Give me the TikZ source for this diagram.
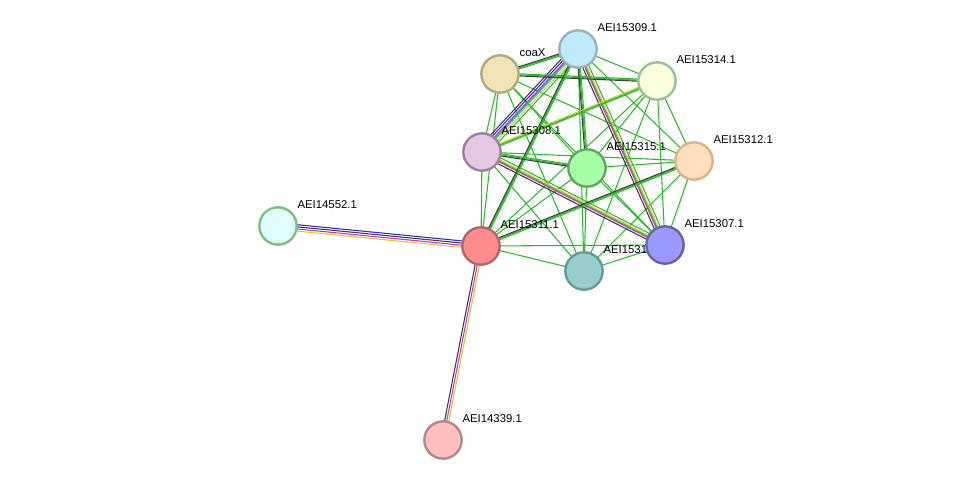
\documentclass[tikz,border=0pt]{standalone}
\usepackage{fontspec}
\setmainfont{Liberation Sans}
\usetikzlibrary{calc}
\definecolor{strgreen}{RGB}{40,190,40}
\definecolor{stryellow}{RGB}{200,210,40}
\definecolor{strmagenta}{RGB}{210,40,210}
\definecolor{strblue}{RGB}{40,40,230}
\definecolor{strcyan}{RGB}{60,180,220}
\definecolor{strblack}{RGB}{60,60,60}
\tikzset{
    prot/.style={circle, line width=1.8pt, minimum size=28pt, inner sep=0pt},
    lbl/.style={anchor=west, font=\fontsize{8.5}{10}\selectfont, inner sep=1pt},
    link/.style={line width=0.8pt, strgreen}
}
% node with its label up and to the right
\newcommand{\protnode}[6]{%
    \node[prot, fill=#4, draw=#5] (#1) at (#2,#3) {};
    \node[lbl] (#1-lbl) at (#2+18,#3-21) {#6};
}
% parallel coloured lines between two nodes
\newcommand{\bundle}[3]{%
    \foreach \col/\off in {#3}
        \draw[line width=0.8pt, \col] ($(#1)!\off pt!90:(#2)$) -- ($(#2)!\off pt!-90:(#1)$);
}
\begin{document}
\begin{tikzpicture}[x=0.75pt, y=-0.75pt]
    \useasboundingbox (0,0) rectangle (976,486);

    % positions
    \coordinate (coaX) at (500,74);
    \coordinate (p09) at (578,49);
    \coordinate (p14) at (657,81);
    \coordinate (p08) at (482,152);
    \coordinate (p15) at (587,168);
    \coordinate (p12) at (694,161);
    \coordinate (p4552) at (278,226);
    \coordinate (p11) at (481,246);
    \coordinate (p07) at (665,245);
    \coordinate (p10) at (584,271);
    \coordinate (p4339) at (443,440);

    % Cluster links (textmining / coexpression)
    \foreach \a/\b in {coaX/p09, coaX/p14, coaX/p08, coaX/p15, coaX/p12, coaX/p11, coaX/p07, coaX/p10,
                       p09/p14, p09/p08, p09/p15, p09/p12, p09/p11, p09/p07, p09/p10,
                       p14/p08, p14/p15, p14/p12, p14/p11, p14/p07, p14/p10,
                       p08/p15, p08/p12, p08/p11, p08/p07, p08/p10,
                       p15/p12, p15/p11, p15/p07, p15/p10,
                       p12/p11, p12/p07, p12/p10,
                       p11/p07, p11/p10, p07/p10}
        \draw[link] (\a) -- (\b);

    % Multi-evidence links
    \bundle{p11}{p4552}{strblue/-2.4, strblack/-0.8, strmagenta/0.8, stryellow/2.4}
    \bundle{p11}{p4339}{strblack/-1.6, strmagenta/0, stryellow/1.6}
    \bundle{p09}{p08}{strblack/-4, strblue/-2.4, strmagenta/-0.8, strcyan/0.8, stryellow/2.4, strgreen/4}
    \bundle{p09}{p07}{strblack/-2.4, strmagenta/-0.8, stryellow/0.8, strgreen/2.4}
    \bundle{p08}{p07}{strblack/-2.4, strmagenta/-0.8, stryellow/0.8, strgreen/2.4}
    \bundle{p09}{coaX}{strblack/-0.8, strgreen/0.8}
    \bundle{coaX}{p14}{strblack/-0.8, strgreen/0.8}
    \bundle{p09}{p15}{strblack/-0.8, strgreen/0.8}
    \bundle{p09}{p11}{strblack/-0.8, strgreen/0.8}
    \bundle{p14}{p08}{stryellow/-0.8, strgreen/0.8}
    \bundle{p12}{p11}{strblack/-0.8, strgreen/0.8}
    \bundle{p08}{p15}{strblack/-0.8, strgreen/0.8}

    % Proteins
    \protnode{n4552}{278}{226}{green!10!cyan!12!white}{green!50!black!50}{AEI14552.1}
    \protnode{n4339}{443}{440}{red!25}{red!30!black!45}{AEI14339.1}
    \protnode{nco}{500}{74}{yellow!40!brown!35!white}{yellow!40!black!60}{coaX}
    \protnode{n09}{578}{49}{cyan!25}{cyan!30!black!45}{AEI15309.1}
    \protnode{n14}{657}{81}{green!15!yellow!12!white}{green!40!black!40}{AEI15314.1}
    \protnode{n08}{482}{152}{violet!22}{violet!50!black!50}{AEI15308.1}
    \protnode{n12}{694}{161}{orange!25}{brown!60!white}{AEI15312.1}
    \protnode{n15}{587}{168}{green!35}{green!40!black!60}{AEI15315.1}
    \protnode{n11}{481}{246}{red!45}{red!50!black!60}{AEI15311.1}
    \protnode{n10}{584}{271}{teal!40}{teal!70!black!60}{AEI15310.1}
    \protnode{n07}{665}{245}{blue!40}{blue!40!black!60}{AEI15307.1}
\end{tikzpicture}
\end{document}
